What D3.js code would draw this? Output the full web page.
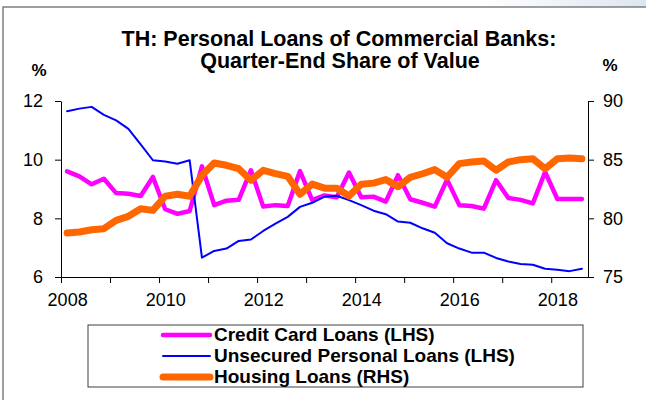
<!DOCTYPE html>
<html lang="en">
<head>
  <meta charset="UTF-8">
  <title>TH: Personal Loans of Commercial Banks</title>
  <script src="https://d3js.org/d3.v7.min.js"></script>
  <style>
    body { margin: 0; background: #fff; }
    svg { display: block; font-family: "Liberation Sans", Arial, sans-serif; }
    .tick text { font-family: "Liberation Sans", Arial, sans-serif; font-size: 18px; fill: #000; }
    .title { font-size: 21.5px; font-weight: bold; }
    .unit { font-size: 17px; font-weight: bold; }
    .legend-text { font-size: 19px; font-weight: bold; }
  </style>
</head>
<body>
  <svg width="646" height="400"></svg>

  <script>
    // quarterly, 2008Q1 .. 2018Q3
    const startYear = 2008;
    const yearLabels = [2008, 2010, 2012, 2014, 2016, 2018];
    const leftTicks = [6, 8, 10, 12];
    const rightTicks = [75, 80, 85, 90];

    const creditCard = [
      9.60, 9.43, 9.16, 9.35, 8.86, 8.84, 8.76, 9.41, 8.31, 8.15, 8.25,
      9.77, 8.45, 8.60, 8.63, 9.64, 8.40, 8.45, 8.42, 9.61, 8.62, 8.78,
      8.72, 9.56, 8.72, 8.74, 8.57, 9.47, 8.65, 8.53, 8.40, 9.32, 8.45,
      8.42, 8.33, 9.30, 8.69, 8.63, 8.51, 9.58, 8.66, 8.66, 8.66
    ];
    const unsecured = [
      11.65, 11.74, 11.80, 11.53, 11.34, 11.05, 10.52, 9.98, 9.94, 9.86, 9.98,
      6.66, 6.89, 6.97, 7.23, 7.28, 7.57, 7.82, 8.05, 8.39, 8.53, 8.74,
      8.77, 8.62, 8.45, 8.26, 8.14, 7.89, 7.85, 7.66, 7.51, 7.15, 6.97,
      6.83, 6.83, 6.65, 6.53, 6.44, 6.42, 6.28, 6.25, 6.20, 6.28
    ];
    const housing = [
      78.75, 78.84, 79.03, 79.12, 79.83, 80.17, 80.82, 80.68, 81.88, 82.05, 81.88,
      83.66, 84.72, 84.52, 84.23, 83.24, 84.09, 83.81, 83.58, 82.05, 82.92, 82.57,
      82.57, 81.90, 82.90, 83.00, 83.30, 82.70, 83.50, 83.80, 84.15, 83.50, 84.66,
      84.80, 84.89, 84.10, 84.80, 85.00, 85.08, 84.23, 85.08, 85.14, 85.08
    ];

    const series = [
      { name: "Credit Card Loans (LHS)", values: creditCard, axis: "left", color: "#ff00ff", width: 4.5 },
      { name: "Unsecured Personal Loans (LHS)", values: unsecured, axis: "left", color: "#0000ff", width: 2 },
      { name: "Housing Loans (RHS)", values: housing, axis: "right", color: "#ff6600", width: 7 }
    ];

    const plot = { left: 61, right: 588, top: 101, bottom: 277 };
    const nQ = creditCard.length;

    const svg = d3.select("svg");

    // outer frame like the source slide
    const grad = svg.append("defs").append("linearGradient")
      .attr("id", "corner").attr("x1", "0").attr("x2", "1");
    grad.append("stop").attr("offset", "0").attr("stop-color", "#ffffff");
    grad.append("stop").attr("offset", "1").attr("stop-color", "#dde6f2");
    svg.append("rect").attr("x", 480).attr("y", 0).attr("width", 166).attr("height", 7)
      .attr("fill", "url(#corner)");
    svg.append("rect")
      .attr("x", 3).attr("y", 7).attr("width", 700).attr("height", 450)
      .attr("fill", "none").attr("stroke", "#7f7f7f").attr("stroke-width", 1.5);

    const x = d3.scaleLinear().domain([0, nQ]).range([plot.left, plot.right]);
    const yL = d3.scaleLinear().domain([6, 12]).range([plot.bottom, plot.top]);
    const yR = d3.scaleLinear().domain([75, 90]).range([plot.bottom, plot.top]);

    // title
    svg.append("text").attr("class", "title").attr("x", 339).attr("y", 46)
      .attr("text-anchor", "middle").text("TH: Personal Loans of Commercial Banks:");
    svg.append("text").attr("class", "title").attr("x", 340).attr("y", 68)
      .attr("text-anchor", "middle").text("Quarter-End Share of Value");

    svg.append("text").attr("class", "unit").attr("x", 39).attr("y", 76)
      .attr("text-anchor", "middle").text("%");
    svg.append("text").attr("class", "unit").attr("x", 610).attr("y", 71)
      .attr("text-anchor", "middle").text("%");

    // axes
    svg.append("g").attr("transform", `translate(${plot.left},0)`)
      .call(d3.axisLeft(yL).tickValues(leftTicks).tickFormat(d3.format("d"))
        .tickSize(6).tickSizeOuter(0).tickPadding(12));
    svg.append("g").attr("transform", `translate(${plot.right},0)`)
      .call(d3.axisRight(yR).tickValues(rightTicks).tickFormat(d3.format("d"))
        .tickSize(6).tickSizeOuter(0).tickPadding(9));

    const yearTicks = d3.range(0, nQ, 4);
    svg.append("g").attr("transform", `translate(0,${plot.bottom})`)
      .call(d3.axisBottom(x).tickValues(yearTicks).tickSize(6).tickSizeOuter(0).tickFormat(""));
    // labels sit on the first quarter of each year
    svg.append("g").attr("transform", `translate(0,${plot.bottom})`)
      .call(d3.axisBottom(x)
        .tickValues(yearLabels.map(yr => (yr - startYear) * 4 + 0.5))
        .tickSize(0).tickPadding(16)
        .tickFormat(v => String(startYear + Math.floor(v / 4))))
      .call(g => g.select(".domain").remove());

    svg.selectAll(".domain, .tick line").attr("stroke", "#000").attr("stroke-width", 1);

    // lines
    series.forEach(s => {
      const y = s.axis === "left" ? yL : yR;
      const line = d3.line()
        .x((d, i) => x(i + 0.5))
        .y(d => y(d));
      svg.append("path")
        .datum(s.values)
        .attr("fill", "none")
        .attr("stroke", s.color)
        .attr("stroke-width", s.width)
        .attr("stroke-linejoin", "round")
        .attr("stroke-linecap", "round")
        .attr("d", line);
    });

    // legend
    const legend = svg.append("g");
    legend.append("rect")
      .attr("x", 88).attr("y", 325).attr("width", 495).attr("height", 62)
      .attr("fill", "#fff").attr("stroke", "#404040").attr("stroke-width", 1);
    series.forEach((s, i) => {
      const ly = 335 + i * 21;
      legend.append("line")
        .attr("x1", 163).attr("x2", 210).attr("y1", ly).attr("y2", ly)
        .attr("stroke", s.color).attr("stroke-width", s.width)
        .attr("stroke-linecap", "round");
      legend.append("text").attr("class", "legend-text")
        .attr("x", 214).attr("y", ly + 6).text(s.name);
    });
  </script>
</body>
</html>
